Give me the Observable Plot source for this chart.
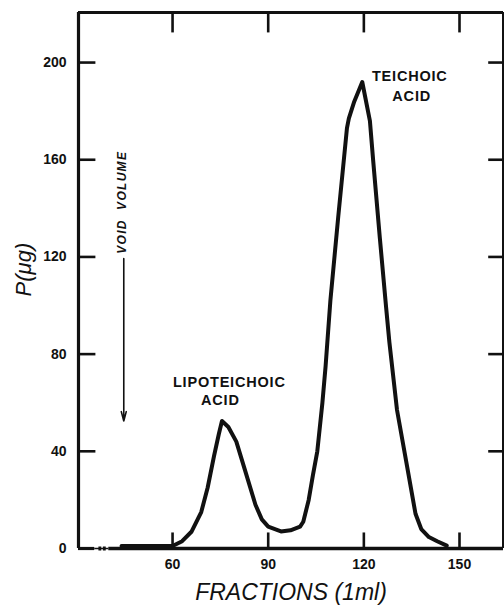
<!DOCTYPE html>
<html>
<head>
<meta charset="utf-8">
<script src="https://cdn.jsdelivr.net/npm/d3@7"></script>
<script src="https://cdn.jsdelivr.net/npm/@observablehq/plot@0.6"></script>
<style>
  html, body { margin: 0; padding: 0; background: #fff; }
  #chart { position: relative; width: 504px; height: 607px; }
  #chart svg { position: absolute; left: 0; top: 0; }
  #chart svg.overlay { pointer-events: none; }
</style>
</head>
<body>
<div id="chart"></div>
<script>
// Data (fraction number, phosphorus in µg)
const fractions = [44, 50, 55, 60, 63, 66, 69, 71, 73, 74.5, 75.5, 77.5, 80, 83, 86, 88, 90, 94, 97, 100, 101, 102.7, 104, 105.4, 107, 108, 109.5, 112, 114.7, 115.3, 117, 119.5, 121.9, 122.9, 125, 127, 128, 130.4, 133.6, 136.2, 138, 140.4, 143, 146];
const phosphorus = [1, 1, 1, 1, 3, 7, 15, 25, 38, 47, 52.5, 50, 44, 31, 18, 12, 9, 7, 7.5, 9, 11, 20, 30, 40, 60, 75, 102, 137, 173, 177, 184, 192, 176, 160, 128, 99, 85, 57, 33.5, 14.3, 8, 4.7, 3, 1.2];

const xTicks = [60, 90, 120, 150];
const yTicks = [0, 40, 80, 120, 160, 200];
const yInnerTicks = [40, 80, 120, 160, 200];

const xDomain = [30.5, 163.8];
const yDomain = [0, 220.6];

const peakLabels = [
  {x: 77.8, y: 68.3, text: "LIPOTEICHOIC"},
  {x: 75, y: 60.9, text: "ACID"},
  {x: 134.4, y: 194.2, text: "TEICHOIC"},
  {x: 135, y: 186, text: "ACID"}
];

const data = fractions.map((f, i) => ({fraction: f, p: phosphorus[i]}));

const [x0, x1] = xDomain;
const [y0, y1] = yDomain;
const ink = "#111";
const tw = 2.6;

const layout = {
  width: 504,
  height: 607,
  marginLeft: 78,
  marginRight: 1,
  marginTop: 12,
  marginBottom: 59,
  x: {domain: xDomain, axis: null},
  y: {domain: yDomain, axis: null}
};

// main chart: frame, labels, profile, annotations
const chart = Plot.plot({
  ...layout,
  style: {fontFamily: "'Liberation Sans', Arial, sans-serif", background: "white", color: ink},
  marks: [
    Plot.ruleX([x0], {y1: y0, y2: y1, stroke: ink, strokeWidth: 3.2}),
    Plot.ruleX([x1], {y1: y0, y2: y1, stroke: ink, strokeWidth: 3}),
    Plot.ruleY([y1], {x1: x0, x2: x1, stroke: ink, strokeWidth: 3.2}),
    // bottom axis with break marks
    Plot.ruleY([0], {x1: x0, x2: 35.6, stroke: ink, strokeWidth: 3.2}),
    Plot.ruleY([0], {x1: 35.6, x2: 40, stroke: ink, strokeWidth: 1.5}),
    Plot.ruleY([0], {x1: 36.9, x2: 37.8, stroke: ink, strokeWidth: 4}),
    Plot.ruleY([0], {x1: 38.3, x2: 39.2, stroke: ink, strokeWidth: 4}),
    Plot.ruleY([0], {x1: 40, x2: x1, stroke: ink, strokeWidth: 3.6}),
    Plot.axisX({ticks: xTicks, tickSize: 0, tickPadding: 11, fontSize: 14, fontWeight: "bold", label: null, tickFormat: d => String(d)}),
    Plot.axisY({ticks: yTicks, tickSize: 0, tickPadding: 12, fontSize: 14, fontWeight: "bold", label: null, tickFormat: d => String(d)}),
    Plot.line(data, {x: "fraction", y: "p", stroke: ink, strokeWidth: 4, strokeLinejoin: "round", strokeLinecap: "round"}),
    Plot.text(peakLabels, {x: "x", y: "y", text: "text", fontSize: 14.5, fontWeight: "bold", fill: ink}),
    Plot.text(["VOID\u00a0\u00a0VOLUME"], {x: 44.1, y: 142.5, rotate: -90, fontSize: 12, fontWeight: "bold", fontStyle: "italic", fill: ink}),
    Plot.arrow([{x: 44.7, ya: 119.3, yb: 52.5}], {x1: "x", x2: "x", y1: "ya", y2: "yb", stroke: ink, strokeWidth: 1.6, headLength: 9, headAngle: 30}),
    Plot.text(["FRACTIONS (1ml)"], {frameAnchor: "bottom", dy: 51, fontSize: 23, fontStyle: "italic", fill: ink}),
    Plot.text(["P(\u03bcg)"], {x: 13.3, y: 114.8, rotate: -90, fontSize: 22, fontStyle: "italic", fill: ink})
  ]
});

chart.querySelectorAll("g[aria-label='text'] text").forEach(t => {
  const s = t.textContent;
  if (s.startsWith("VOID")) t.setAttribute("letter-spacing", "1.3");
  else if (/^(LIPO|TEICH|ACID)/.test(s)) t.setAttribute("letter-spacing", "0.8");
});

// overlay with the same scales: inward ticks on all four sides
const bottomTicks = xTicks.map(v => ({xa: v, xb: v, ya: 0, yb: 6.6}));
const topTicks = xTicks.map(v => ({xa: v, xb: v, ya: y1, yb: y1 - 8.2}));
const leftTicks = yInnerTicks.map(v => ({xa: x0, xb: x0 + 5.3, ya: v, yb: v}));
const rightTicks = yInnerTicks.map(v => ({xa: x1, xb: x1 - 4.8, ya: v, yb: v}));
const tickOpts = {x1: "xa", x2: "xb", y1: "ya", y2: "yb", stroke: ink, strokeWidth: tw};

const ticks = Plot.plot({
  ...layout,
  style: {background: "transparent"},
  marks: [
    Plot.link(bottomTicks, tickOpts),
    Plot.link(topTicks, tickOpts),
    Plot.link(leftTicks, tickOpts),
    Plot.link(rightTicks, tickOpts)
  ]
});
ticks.setAttribute("class", (ticks.getAttribute("class") || "") + " overlay");
ticks.style.background = "transparent";

const host = document.getElementById("chart");
host.appendChild(chart);
host.appendChild(ticks);
</script>
</body>
</html>
